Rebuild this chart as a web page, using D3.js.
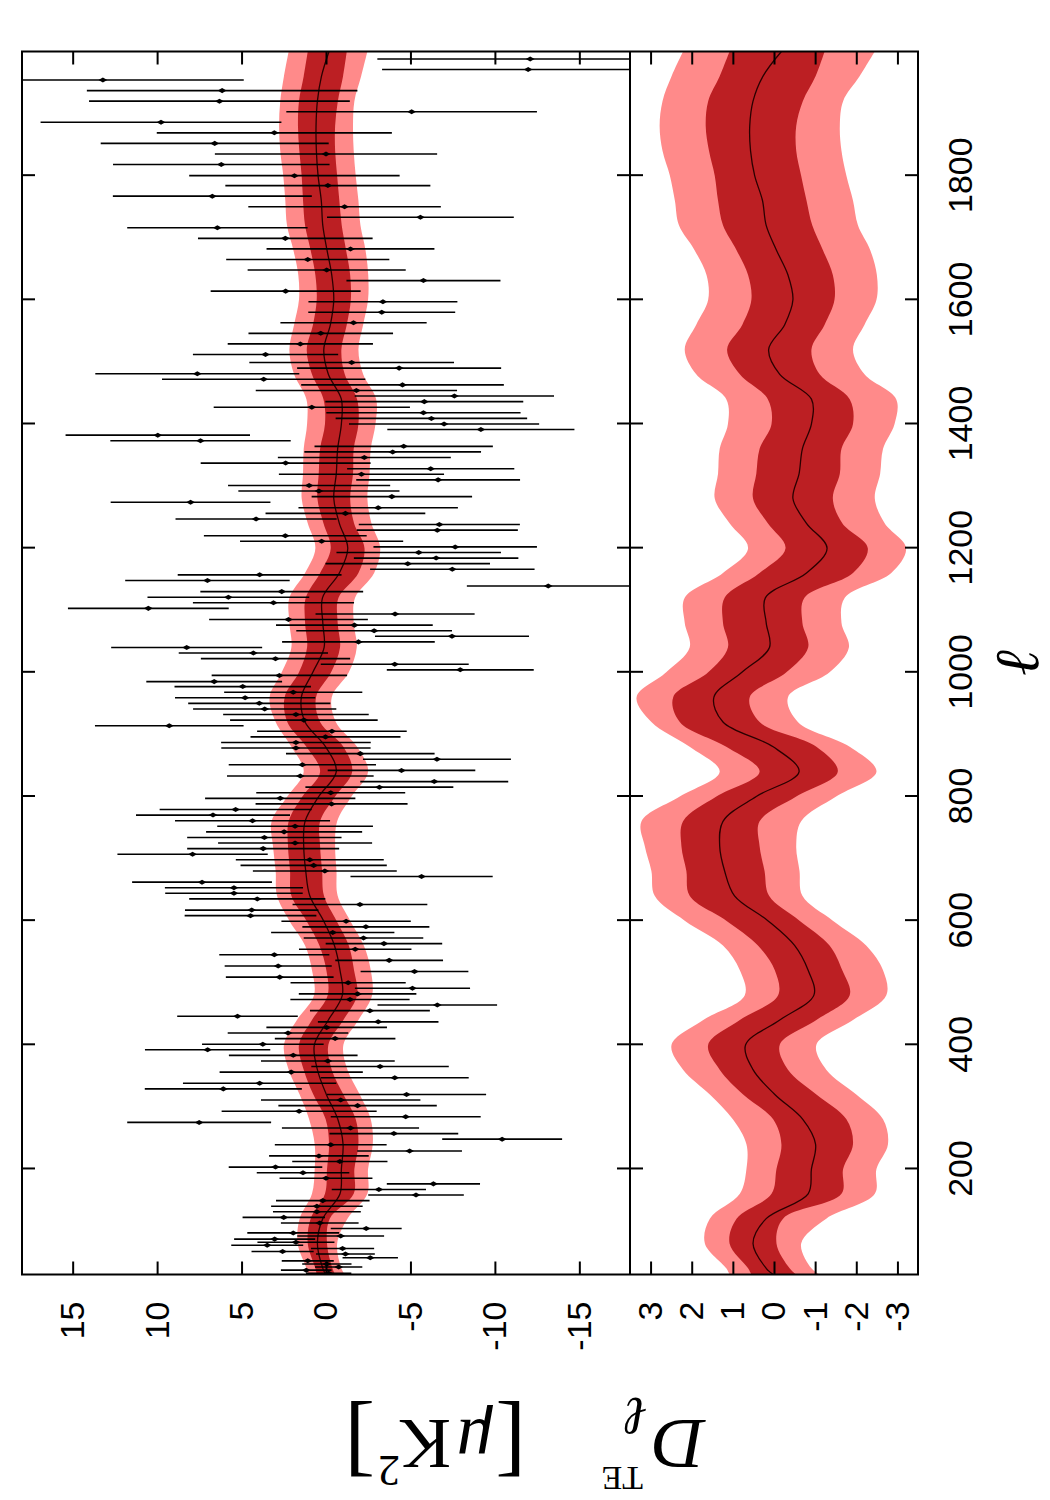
<!DOCTYPE html>
<html>
<head>
<meta charset="utf-8">
<script src="https://cdn.jsdelivr.net/npm/d3@7"></script>
<style>
body { margin: 0; background: #fff; }
</style>
</head>
<body>
<script>
// binned TE data points (multipole, D_l, 1-sigma error)
var ell = [32,37,42,47,52,57,63,67,72,77,82,87,92,97,104,113,122,131,140,149,158,167,176,185,194,203,212,221,229,239,248,257,266,275,284,293,302,311,320,329,338,347,356,365,374,383,392,401,410,419,428,437,446,455,464,473,482,491,500,509,518,527,536,545,554,563,572,581,590,599,608,617,626,635,644,653,662,671,680,689,698,707,716,725,734,743,752,761,770,779,788,797,806,815,824,833,842,851,860,869,878,887,896,905,914,923,932,941,950,959,968,977,985,995,1004,1013,1022,1031,1040,1049,1058,1067,1076,1085,1094,1103,1112,1121,1130,1139,1148,1157,1166,1175,1184,1193,1202,1211,1220,1229,1238,1247,1256,1265,1274,1283,1292,1301,1310,1319,1328,1337,1346,1355,1364,1373,1382,1391,1400,1409,1418,1427,1436,1445,1454,1463,1472,1481,1490,1499,1512,1529,1546,1563,1580,1597,1614,1631,1648,1665,1682,1699,1716,1733,1750,1767,1784,1800,1818,1835,1852,1869,1886,1903,1920,1937,1954,1971,1988];
var dte = [-0.16,1.17,-0.75,-0.05,1.08,-2.62,-1.15,2.57,-0.98,3.48,1.78,3.04,-0.87,1.94,-2.38,0.37,2.50,0.54,0.54,0.19,-5.33,-3.13,-6.36,0.00,1.36,2.99,-0.82,0.42,-4.95,-0.28,-10.43,-4.02,-1.45,7.51,-4.72,1.59,-1.87,-0.87,-4.77,6.08,3.93,-4.07,2.06,-3.20,-0.11,1.94,7.01,3.74,-0.54,2.25,-0.04,-3.09,5.24,-2.60,-6.59,-1.42,-1.87,-5.12,-1.31,2.74,-5.24,2.83,-3.74,3.06,-1.73,-3.43,-2.22,-0.40,-2.36,-1.19,4.47,4.40,-2.01,4.07,5.45,5.45,7.34,-5.66,0.07,0.73,0.96,7.90,3.72,1.83,3.65,2.48,1.83,4.35,6.69,5.35,-0.33,2.71,-0.28,-3.16,-6.41,1.52,-4.47,1.40,-6.57,-2.03,1.78,1.78,0.03,-0.35,9.28,1.31,1.78,3.63,3.95,4.79,1.94,4.93,6.62,2.76,-7.95,-4.07,2.99,4.30,8.25,-1.92,-7.46,-2.85,-1.68,2.22,-4.09,10.52,3.11,5.78,2.62,-13.16,7.02,3.93,-7.48,-4.84,-6.52,-5.49,-7.65,0.26,2.41,-6.59,-6.71,4.14,-1.15,-3.09,8.02,-3.90,0.42,1.00,-6.64,-2.10,-6.20,2.39,-2.27,-3.95,-4.60,7.43,9.96,-9.17,-6.99,-6.24,-5.77,0.84,-5.82,-7.60,-1.80,-4.53,3.69,7.62,-4.33,-1.52,3.58,1.52,0.31,-1.63,-3.30,-3.37,2.39,-5.77,-0.04,1.08,-1.45,2.41,6.43,-5.59,-1.10,6.73,-0.11,1.87,6.20,0.00,6.59,3.06,9.77,-5.07,6.31,6.15,13.21,-11.97,-12.09];
var err = [1.34,1.50,1.40,1.46,1.54,1.64,1.74,1.84,1.87,2.13,2.28,2.40,2.57,2.72,2.10,2.30,2.44,2.60,2.71,2.77,2.83,2.79,2.76,2.75,2.74,2.77,2.82,2.95,3.10,3.31,3.55,3.81,4.06,4.26,4.44,4.59,4.69,4.72,4.71,4.65,4.54,4.38,4.24,4.07,3.96,3.81,3.71,3.60,3.57,3.57,3.57,3.57,3.57,3.55,3.54,3.53,3.48,3.41,3.41,3.19,3.19,3.17,3.19,3.26,3.33,3.45,3.54,3.65,3.76,3.83,3.90,3.95,3.99,4.03,4.07,4.09,4.14,4.21,4.26,4.33,4.38,4.45,4.50,4.56,4.57,4.62,4.61,4.59,4.56,4.50,4.50,4.45,4.41,4.38,4.38,4.34,4.37,4.36,4.38,4.40,4.42,4.43,4.44,4.43,4.40,4.37,4.31,4.24,4.21,4.15,4.09,4.04,4.02,4.01,4.35,4.38,4.42,4.42,4.47,4.52,4.56,4.61,4.64,4.70,4.71,4.76,4.77,4.79,4.82,4.82,4.87,4.85,4.87,4.87,4.87,4.87,4.84,4.83,4.82,4.77,4.77,4.77,4.73,4.72,4.73,4.75,4.77,4.80,4.85,4.89,4.95,5.03,5.12,5.23,5.28,5.34,5.46,5.54,5.63,5.67,5.75,5.81,5.86,5.90,5.96,6.00,6.02,6.04,6.04,6.06,4.30,4.30,4.28,4.33,4.35,4.41,4.44,4.56,4.68,4.83,4.97,5.17,5.34,5.53,5.70,5.89,6.07,6.23,6.41,6.58,6.75,6.96,7.13,7.42,7.72,8.01,8.34,8.65,9.05];

// model curve with 1 and 2 sigma envelopes
var bandEll = [30,40,80,120,160,200,240,280,320,360,400,440,480,520,560,600,640,680,720,760,800,840,880,920,960,1000,1040,1080,1120,1160,1200,1240,1280,1320,1360,1400,1440,1480,1520,1560,1600,1640,1680,1720,1760,1800,1840,1880,1920,1960,2000];
var mid = [0.02,0.19,0.51,0.19,-0.83,-0.91,-1.01,-0.70,-0.02,0.51,0.69,-0.14,-0.97,-0.83,-0.50,0.15,0.96,1.20,1.32,1.24,0.43,-0.61,0.02,1.24,1.46,0.78,0.11,0.19,0.21,-0.79,-1.29,-0.79,-0.46,-0.61,-0.69,-0.91,-0.91,-0.14,0.13,-0.26,-0.46,-0.34,-0.06,0.19,0.28,0.47,0.57,0.59,0.51,0.27,-0.18];
var hi1 = [0.55,0.63,1.08,0.91,0.06,-0.06,-0.18,0.02,0.75,1.32,1.60,0.83,-0.10,-0.02,0.39,1.16,2.05,2.13,2.25,2.21,1.40,0.35,1.16,2.29,2.45,1.60,1.12,1.24,1.20,0.35,-0.28,0.15,0.51,0.43,0.35,0.06,0.15,0.83,1.14,0.77,0.55,0.63,0.91,1.24,1.36,1.44,1.58,1.66,1.60,1.32,1.08];
var lo1 = [-0.54,-0.38,-0.06,-0.22,-1.64,-1.68,-1.92,-1.76,-1.03,-0.34,-0.14,-1.03,-1.84,-1.66,-1.35,-0.62,0.12,0.23,0.35,0.35,-0.54,-1.55,-1.03,0.35,0.59,-0.30,-0.83,-0.69,-0.74,-1.92,-2.28,-1.66,-1.43,-1.60,-1.64,-1.92,-1.84,-1.11,-0.91,-1.23,-1.47,-1.43,-1.19,-0.93,-0.79,-0.66,-0.54,-0.54,-0.70,-1.01,-1.23];
var hi2 = [1.08,1.16,1.68,1.56,0.83,0.67,0.67,1.00,1.56,2.21,2.49,1.72,0.71,0.83,1.24,2.17,2.90,2.98,3.14,3.22,2.29,1.32,2.05,2.98,3.34,2.62,2.05,2.17,2.17,1.24,0.63,1.08,1.44,1.36,1.32,1.12,1.16,1.89,2.17,1.89,1.60,1.64,1.93,2.31,2.41,2.53,2.71,2.78,2.71,2.49,2.21];
var lo2 = [-1.11,-0.91,-0.66,-1.27,-2.45,-2.49,-2.77,-2.65,-2.00,-1.27,-1.03,-1.92,-2.73,-2.65,-2.24,-1.43,-0.69,-0.62,-0.54,-0.66,-1.51,-2.49,-1.84,-0.58,-0.34,-1.35,-1.82,-1.64,-1.72,-2.85,-3.21,-2.69,-2.45,-2.58,-2.65,-2.93,-2.97,-2.20,-1.92,-2.20,-2.49,-2.50,-2.34,-2.04,-1.92,-1.76,-1.64,-1.60,-1.68,-2.08,-2.45];

var ellTicks = [200,400,600,800,1000,1200,1400,1600,1800];
var dTicks = [15,10,5,0,-5,-10,-15];
var rTicks = [3,2,1,0,-1,-2,-3];

var W = 1050, H = 1500;
var tickFont = "'Liberation Sans', Arial, Helvetica, sans-serif";
var mathFont = "'Liberation Serif', 'DejaVu Serif', serif";
var light = "#ff8a8a", dark = "#bc1f23";

var svg = d3.select("body").append("svg")
	.attr("width", W)
	.attr("height", H);

// the whole figure is a landscape plot turned a quarter turn anticlockwise
var plot = svg.append("g")
	.attr("transform", "translate(0," + H + ") rotate(-90)");

var xL = d3.scaleLinear().domain([30, 2000]).range([225.5, 1448.5]);
var yD = d3.scaleLinear().domain([18, -18]).range([22, 630]);
var yR = d3.scaleLinear().domain([3.5, -3.5]).range([630, 918]);

var defs = svg.append("defs");
defs.append("clipPath").attr("id", "clipTop")
	.append("rect")
	.attr("x", xL(30)).attr("y", yD(18))
	.attr("width", xL(2000) - xL(30)).attr("height", yD(-18) - yD(18));
defs.append("clipPath").attr("id", "clipBot")
	.append("rect")
	.attr("x", xL(30)).attr("y", yR(3.5))
	.attr("width", xL(2000) - xL(30)).attr("height", yR(-3.5) - yR(3.5));

function bandArea(scale, lo, hi) {
	return d3.area()
		.curve(d3.curveCatmullRom.alpha(0.5))
		.x(function(d, i) { return xL(bandEll[i]); })
		.y0(function(d, i) { return scale(lo[i]); })
		.y1(function(d, i) { return scale(hi[i]); });
}

function drawBands(g, scale) {
	g.append("path").datum(bandEll)
		.attr("d", bandArea(scale, lo2, hi2))
		.attr("fill", light);
	g.append("path").datum(bandEll)
		.attr("d", bandArea(scale, lo1, hi1))
		.attr("fill", dark);
	g.append("path").datum(bandEll)
		.attr("d", d3.line()
			.curve(d3.curveCatmullRom.alpha(0.5))
			.x(function(d, i) { return xL(bandEll[i]); })
			.y(function(d, i) { return scale(mid[i]); }))
		.attr("fill", "none")
		.attr("stroke", "#2a0000")
		.attr("stroke-width", 1.3);
}

// top panel: bands + data
var topPanel = plot.append("g").attr("clip-path", "url(#clipTop)");
drawBands(topPanel, yD);

var n = Math.min(ell.length, dte.length, err.length);
var pts = d3.range(n).map(function(i) { return {l: ell[i], d: dte[i], e: err[i]}; });

topPanel.selectAll(".ebar").data(pts).enter().append("line")
	.attr("class", "ebar")
	.attr("x1", function(p) { return xL(p.l); })
	.attr("x2", function(p) { return xL(p.l); })
	.attr("y1", function(p) { return yD(p.d + p.e); })
	.attr("y2", function(p) { return yD(p.d - p.e); })
	.attr("stroke", "#000")
	.attr("stroke-width", 1.6);

topPanel.selectAll(".pt").data(pts).enter().append("path")
	.attr("class", "pt")
	.attr("d", d3.symbol().type(d3.symbolDiamond).size(22))
	.attr("transform", function(p) { return "translate(" + xL(p.l) + "," + yD(p.d) + ")"; })
	.attr("fill", "#000");

// bottom panel: zoomed view of the bands
var botPanel = plot.append("g").attr("clip-path", "url(#clipBot)");
drawBands(botPanel, yR);

// axes (gnuplot style inward ticks)
function styleAxis(g) {
	g.select(".domain").remove();
	g.selectAll("line").attr("stroke", "#000").attr("stroke-width", 2);
	g.selectAll("text")
		.attr("fill", "#000")
		.attr("font-family", tickFont)
		.attr("font-size", 34);
}

var blank = function() { return ""; };
var plain = function(d) { return (d < 0 ? "-" : "") + Math.abs(d); };

plot.append("g").attr("transform", "translate(0," + yD(18) + ")")
	.call(d3.axisTop(xL).tickValues(ellTicks).tickSize(-13).tickFormat(blank)).call(styleAxis);
plot.append("g").attr("transform", "translate(0," + yD(-18) + ")")
	.call(d3.axisBottom(xL).tickValues(ellTicks).tickSize(-13).tickFormat(blank)).call(styleAxis);
plot.append("g").attr("transform", "translate(0," + yR(3.5) + ")")
	.call(d3.axisTop(xL).tickValues(ellTicks).tickSize(-13).tickFormat(blank)).call(styleAxis);
plot.append("g").attr("transform", "translate(0," + yR(-3.5) + ")")
	.call(d3.axisBottom(xL).tickValues(ellTicks).tickSize(-13).tickPadding(30).tickFormat(plain)).call(styleAxis);

plot.append("g").attr("transform", "translate(" + xL(30) + ",0)")
	.call(d3.axisLeft(yD).tickValues(dTicks).tickSize(-13).tickPadding(27).tickFormat(plain)).call(styleAxis);
plot.append("g").attr("transform", "translate(" + xL(2000) + ",0)")
	.call(d3.axisRight(yD).tickValues(dTicks).tickSize(-13).tickFormat(blank)).call(styleAxis);
plot.append("g").attr("transform", "translate(" + xL(30) + ",0)")
	.call(d3.axisLeft(yR).tickValues(rTicks).tickSize(-13).tickPadding(27).tickFormat(plain)).call(styleAxis);
plot.append("g").attr("transform", "translate(" + xL(2000) + ",0)")
	.call(d3.axisRight(yR).tickValues(rTicks).tickSize(-13).tickFormat(blank)).call(styleAxis);

// frames
plot.append("rect")
	.attr("x", xL(30)).attr("y", yD(18))
	.attr("width", xL(2000) - xL(30)).attr("height", yR(-3.5) - yD(18))
	.attr("fill", "none").attr("stroke", "#000").attr("stroke-width", 2);
plot.append("line")
	.attr("x1", xL(30)).attr("x2", xL(2000))
	.attr("y1", yD(-18)).attr("y2", yD(-18))
	.attr("stroke", "#000").attr("stroke-width", 2);

// x label (ell)
plot.append("text")
	.attr("x", (xL(30) + xL(2000)) / 2)
	.attr("y", 1038)
	.attr("text-anchor", "middle")
	.attr("font-family", mathFont)
	.attr("font-style", "italic")
	.attr("font-size", 62)
	.text("\u2113");

// y label, upside down after the rotation
var yl = svg.append("g").attr("transform", "translate(529,1420) rotate(180)")
	.attr("font-family", mathFont).attr("fill", "#000");
yl.append("text").attr("x", -176).attr("y", 0)
	.attr("font-size", 72).attr("font-style", "italic").text("D");
yl.append("text").attr("x", -118).attr("y", 22)
	.attr("font-size", 54).attr("font-style", "italic").text("\u2113");
yl.append("text").attr("x", -114).attr("y", -47)
	.attr("font-size", 34).text("TE");
yl.append("text").attr("x", 3).attr("y", 7)
	.attr("font-size", 92).text("[");
yl.append("text").attr("x", 36).attr("y", 0)
	.attr("font-size", 72).attr("font-style", "italic").text("\u03bc");
yl.append("text").attr("x", 78).attr("y", 0)
	.attr("font-size", 72).text("K");
yl.append("text").attr("x", 129).attr("y", -36)
	.attr("font-size", 44).text("2");
yl.append("text").attr("x", 154).attr("y", 7)
	.attr("font-size", 92).text("]");
</script>
</body>
</html>
